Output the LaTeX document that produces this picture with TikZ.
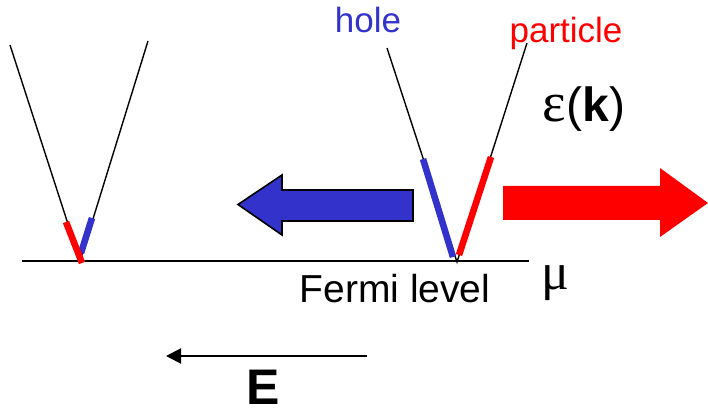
\documentclass[tikz,border=0pt]{standalone}
\usepackage{fontspec}
\setmainfont{Liberation Sans}
\newfontfamily\grkfont{Liberation Serif}
\usetikzlibrary{arrows.meta}
\definecolor{holeblue}{RGB}{51,51,204}
\definecolor{partred}{RGB}{255,0,0}
\tikzset{
  band_line/.style={draw=black,line width=0.7pt},
  hole_seg/.style={draw=holeblue,line width=3.3pt},
  part_seg/.style={draw=partred,line width=3.3pt},
  lbl/.style={inner sep=0pt,anchor=base},
}

\begin{document}
\begin{tikzpicture}[x=0.5pt,y=-0.5pt]
  \useasboundingbox (0,0) rectangle (708,415);
  % Fermi level
  \coordinate (fl_l) at (22,261);
  \coordinate (fl_r) at (529,261);
  \draw[line width=1pt] (fl_l) -- (fl_r);
  % left band, no field
  \coordinate (lv) at (80,261);
  \coordinate (lv_a) at (10,45);
  \coordinate (lv_b) at (148,41);
  \coordinate (lv_r) at (66,222);
  \coordinate (lv_rb) at (82,263);
  \coordinate (lv_h) at (92,218);
  \coordinate (lv_hb) at (81,253);
  \draw[band_line] (lv_a) -- (lv) -- (lv_b);
  \draw[hole_seg] (lv_h) -- (lv_hb);
  \draw[part_seg] (lv_r) -- (lv_rb);
  % right band, shifted
  \coordinate (rv) at (457,262);
  \coordinate (rv_a) at (387,48);
  \coordinate (rv_b) at (527,43);
  \coordinate (rv_h) at (423,159);
  \coordinate (rv_hb) at (453,257);
  \coordinate (rv_p) at (491,157);
  \coordinate (rv_pb) at (459,255);
  \draw[band_line] (rv_a) -- (rv) -- (rv_b);
  \draw[hole_seg] (rv_h) -- (rv_hb);
  \draw[part_seg] (rv_p) -- (rv_pb);
  % big arrows
  \draw[fill=holeblue,line width=0.8pt,line join=miter]
    (413,190) -- (282,190) -- (282,175) -- (238,204.5) -- (282,235)
    -- (282,221) -- (413,221) -- cycle;
  \fill[partred]
    (503,186) -- (660,186) -- (660,168) -- (708,203) -- (660,237)
    -- (660,220) -- (503,220) -- cycle;
  % field
  \coordinate (e_start) at (367,356);
  \coordinate (e_end) at (166,356);
  \draw[line width=1pt,-{Triangle[length=7.5pt,width=7.5pt]}] (e_start) -- (e_end);
  % labels
  \node[lbl,text=holeblue,font=\fontsize{17.5}{20}\selectfont] (hole) at (368,33) {hole};
  \node[lbl,text=partred,font=\fontsize{17.5}{20}\selectfont] (particle) at (566,43) {particle};
  \node[lbl,font=\fontsize{24}{28}\selectfont] (eps) at (584,122)
    {{\grkfont\fontsize{28}{30}\selectfont ε}(\textbf{k})};
  \node[lbl,font=\fontsize{19.5}{22}\selectfont] (fermi) at (395,303) {Fermi level};
  \node[lbl,font=\fontsize{26}{30}\selectfont] (mu) at (555,290) {\grkfont μ};
  \node[lbl,font=\fontsize{25}{30}\selectfont\bfseries] (efield) at (263,405) {E};
\end{tikzpicture}
\end{document}
